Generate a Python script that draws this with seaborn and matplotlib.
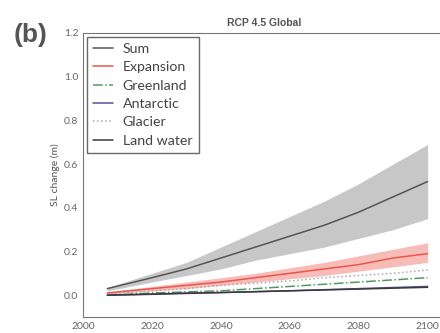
import matplotlib
matplotlib.use("Agg")
import matplotlib.pyplot as plt
import seaborn as sns
import pandas as pd

years = [2007, 2020, 2030, 2040, 2050, 2060, 2070, 2080, 2090, 2100]
sum_mid = [0.03, 0.08, 0.12, 0.17, 0.22, 0.27, 0.32, 0.38, 0.45, 0.52]
sum_low = [0.02, 0.06, 0.09, 0.12, 0.16, 0.19, 0.22, 0.26, 0.30, 0.35]
sum_high = [0.035, 0.10, 0.15, 0.22, 0.29, 0.36, 0.43, 0.51, 0.60, 0.69]
exp_mid = [0.01, 0.03, 0.045, 0.06, 0.08, 0.10, 0.12, 0.14, 0.17, 0.19]
exp_low = [0.005, 0.02, 0.03, 0.045, 0.06, 0.075, 0.09, 0.11, 0.13, 0.15]
exp_high = [0.015, 0.04, 0.06, 0.08, 0.10, 0.125, 0.15, 0.18, 0.21, 0.24]
greenland = [0.0, 0.01, 0.015, 0.02, 0.03, 0.04, 0.05, 0.06, 0.07, 0.08]
antarctic = [0.0, 0.005, 0.01, 0.012, 0.016, 0.02, 0.025, 0.03, 0.035, 0.04]
glacier = [0.005, 0.02, 0.03, 0.045, 0.055, 0.065, 0.08, 0.09, 0.10, 0.115]
land_water = [0.0, 0.004, 0.008, 0.012, 0.016, 0.02, 0.024, 0.028, 0.032, 0.036]

series = {
    "Sum": (sum_mid, "#555555", "-"),
    "Expansion": (exp_mid, "#e8574b", "-"),
    "Greenland": (greenland, "#4f9a5e", "-."),
    "Antarctic": (antarctic, "#55509a", "-"),
    "Glacier": (glacier, "#aaaaaa", ":"),
    "Land water": (land_water, "#3a3a3a", "-"),
}

sns.set_style("white")
plt.rcParams["font.family"] = ["Lato", "DejaVu Sans"]
fig = plt.figure(figsize=(4.4, 3.33), dpi=100)
ax = fig.add_axes([0.189, 0.048, 0.822, 0.853])

ax.fill_between(years, sum_low, sum_high, color="#aaaaaa", alpha=0.65, lw=0)
ax.fill_between(years, exp_low, exp_high, color="#f4a09a", alpha=0.7, lw=0)

for name, (vals, col, ls) in series.items():
    df = pd.DataFrame({"year": years, "val": vals})
    sns.lineplot(data=df, x="year", y="val", ax=ax, color=col, linestyle=ls,
                 lw=1.1, label=name)

ax.set_xlim(2000, 2105)
ax.set_ylim(-0.1, 1.2)
ax.set_xticks([2000, 2020, 2040, 2060, 2080, 2100])
ax.set_yticks([0.0, 0.2, 0.4, 0.6, 0.8, 1.0, 1.2])
ax.set_yticklabels(["0.0", "0.2", "0.4", "0.6", "0.8", "1.0", "1.2"])
ax.tick_params(axis="both", labelsize=7.5, colors="#666666", length=2,
               pad=1.5, direction="out")
ax.set_xlabel("")
ax.set_ylabel("SL change (m)", fontsize=7.5, color="#555555", labelpad=3)
for sp in ax.spines.values():
    sp.set_color("#777777")
    sp.set_linestyle((0, (2, 1)))
    sp.set_linewidth(0.8)

leg = ax.legend(loc="upper left", fontsize=10.2, frameon=True, fancybox=False,
                handlelength=1.4, handletextpad=0.7, borderpad=0.45,
                labelspacing=0.45, borderaxespad=0.25,
                bbox_to_anchor=(0.0, 1.0))
leg.get_frame().set_edgecolor("#444444")
leg.get_frame().set_linewidth(1.0)
for t in leg.get_texts():
    t.set_color("#444444")

ax.set_title("RCP 4.5 Global", fontsize=7.5, fontweight="bold", color="#555555",
             pad=5, family=["Liberation Sans", "DejaVu Sans"])
fig.text(0.03, 0.875, "(b)", fontsize=19, fontweight="bold", color="#555555",
         family=["Liberation Sans", "DejaVu Sans"])

fig.savefig("out.png", dpi=100)
